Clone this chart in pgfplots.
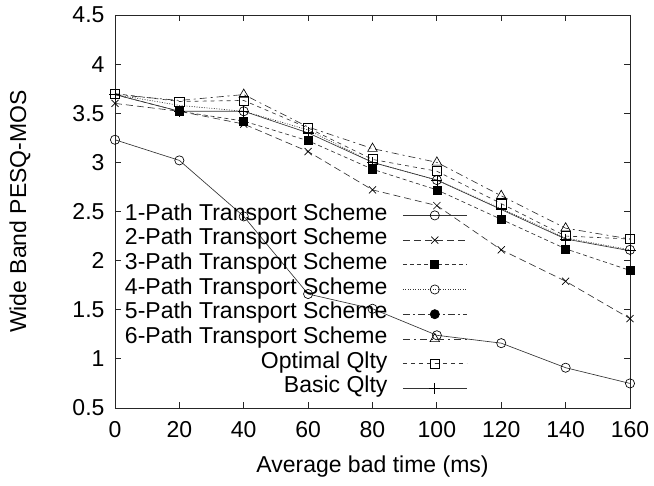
\documentclass[border=0pt]{standalone}
\usepackage{fontspec}
\setmainfont{Liberation Sans}
\usepackage{pgfplots}
\usepackage{pgfplotstable}
\pgfplotsset{compat=1.18}

% Wide band PESQ-MOS against average bad time
\pgfplotstableread{
x    p1   p2   p3   p4   p6   opt  basic
0    3.23 3.60 3.69 3.69 3.69 3.70 3.69
20   3.02 3.52 3.52 3.58 3.63 3.62 3.52
40   2.45 3.39 3.42 3.52 3.69 3.63 3.52
60   1.66 3.11 3.22 3.33 3.36 3.35 3.30
80   1.51 2.72 2.93 3.00 3.14 3.03 3.00
100  1.24 2.56 2.72 2.82 3.00 2.91 2.82
120  1.16 2.11 2.42 2.53 2.66 2.58 2.52
140  0.91 1.79 2.12 2.23 2.33 2.25 2.22
160  0.75 1.41 1.90 2.11 2.22 2.22 2.10
}\mosdata

\newcommand{\bigfont}{\fontsize{23}{27}\selectfont}

\pgfplotsset{
  base/.style={black!80, line width=0.65pt, mark options={solid, black, line width=0.65pt}},
  sA/.style={base, solid, mark=o, mark size=4.6pt},
  sB/.style={base, dash pattern=on 7pt off 4pt, mark=x, mark size=5pt},
  sC/.style={base, dash pattern=on 4pt off 3pt, mark=square*, mark size=4pt},
  sD/.style={base, dash pattern=on 1pt off 1.5pt, mark=o, mark size=4.6pt},
  sE/.style={base, dash pattern=on 7pt off 3pt on 2pt off 3pt, mark=*, mark size=4.6pt},
  sF/.style={base, dash pattern=on 7pt off 4pt on 2pt off 4pt, mark=triangle, mark size=5.5pt},
  sG/.style={base, dash pattern=on 4pt off 4pt, mark=square, mark size=4.6pt},
  sH/.style={base, solid, mark=+, mark size=5.5pt},
}

\begin{document}
\begin{tikzpicture}
\useasboundingbox (-115pt,-78pt) rectangle (539pt,408pt);
\begin{axis}[
  scale only axis, width=515pt, height=393pt,
  xmin=0, xmax=160, ymin=0.5, ymax=4.5,
  xtick={0,20,...,160}, ytick={0.5,1,1.5,2,2.5,3,3.5,4,4.5},
  tick align=inside, major tick length=6pt,
  axis line style={black!85, line width=0.8pt},
  tick style={black!85, line width=0.8pt},
  clip=false,
  font=\bigfont,
  /pgf/number format/assume math mode=true,
  ticklabel style={font=\bigfont},
  xticklabel style={anchor=base, yshift=-30pt},
  yticklabel style={anchor=east, xshift=-7pt},
  xlabel={Average bad time (ms)},
  ylabel={Wide Band PESQ-MOS},
  xlabel style={font=\bigfont, at={(axis description cs:0.5,0)}, anchor=center, yshift=-59pt},
  ylabel style={font=\bigfont, at={(axis description cs:0,0.5)}, anchor=center, rotate=0, yshift=95pt},
  legend plot pos=right,
  legend cell align=right,
  legend style={draw=none, fill=none, inner sep=0pt, font=\bigfont,
    at={(axis description cs:0.019,0.522)}, anchor=north west,
    column sep=15pt, row sep=0pt,
    nodes={inner xsep=0pt, inner ysep=0pt, text height=17pt, text depth=7.7pt},
    legend image code/.code={\draw[mark repeat=2, mark phase=2, #1]
      plot coordinates {(0pt,0pt) (32pt,0pt) (64pt,0pt)};}},
]
\addplot[sA] table[x=x, y=p1] {\mosdata};
\addlegendentry{1-Path Transport Scheme}
\addplot[sB] table[x=x, y=p2] {\mosdata};
\addlegendentry{2-Path Transport Scheme}
\addplot[sC, forget plot, mark indices={2,3,4,5,6,7,8,9}] table[x=x, y=p3] {\mosdata};
\addlegendimage{sC}
\addlegendentry{3-Path Transport Scheme}
\addplot[sD, forget plot, mark indices={3,6,9}] table[x=x, y=p4] {\mosdata};
\addlegendimage{sD}
\addlegendentry{4-Path Transport Scheme}
\addlegendimage{sE}
\addlegendentry{5-Path Transport Scheme}
\addplot[sF, forget plot, mark indices={3,5,6,7,8}] table[x=x, y=p6] {\mosdata};
\addlegendimage{sF}
\addlegendentry{6-Path Transport Scheme}
\addplot[sG] table[x=x, y=opt] {\mosdata};
\addlegendentry{Optimal Qlty}
\addplot[sH] table[x=x, y=basic] {\mosdata};
\addlegendentry{Basic Qlty}
\end{axis}
\end{tikzpicture}
\end{document}
